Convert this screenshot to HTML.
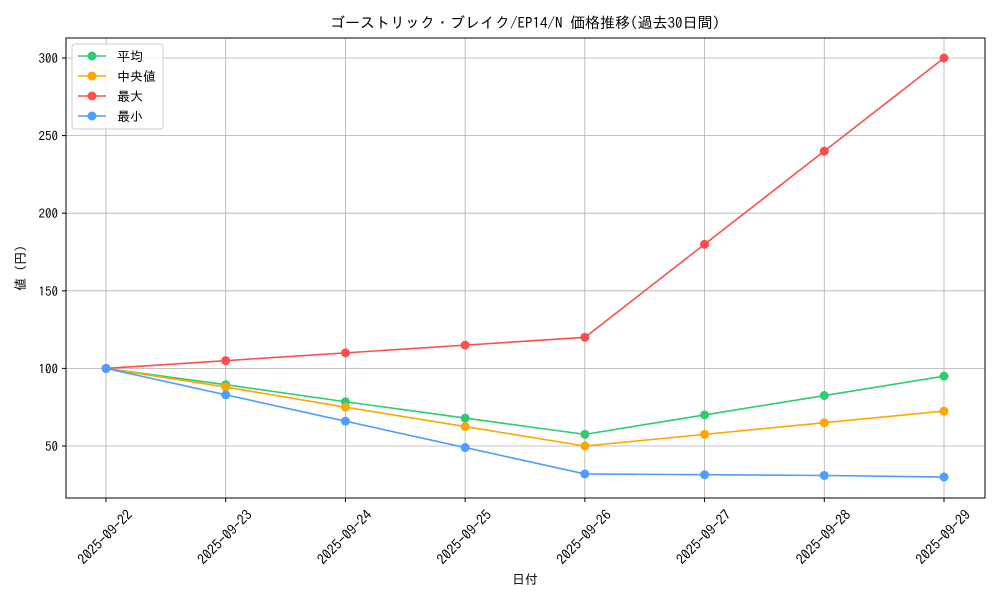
<!DOCTYPE html>
<html><head><meta charset="utf-8"><style>
body{margin:0;background:#fff;}
svg{display:block;font-family:"IPAGothic","Liberation Sans","Noto Sans CJK JP",sans-serif;}
</style></head><body>
<svg id="chart" width="1000" height="600">
<text x="525" y="28" text-anchor="middle" font-size="15">ゴーストリック・ブレイク/EP14/N 価格推移(過去30日間)</text>
<g id="grid"></g><g id="axes"></g><g id="series"></g><g id="legend"></g>
<text x="525" y="584" text-anchor="middle" font-size="13">日付</text>
<text transform="translate(25,268) rotate(-90)" text-anchor="middle" font-size="13">値 (円)</text>
</svg>
<script>
const categories=["2025-09-22","2025-09-23","2025-09-24","2025-09-25","2025-09-26","2025-09-27","2025-09-28","2025-09-29"];
const meanValues=[100,89.5,78.5,68,57.5,70,82.5,95];
const medianValues=[100,88,75,62.5,50,57.5,65,72.5];
const maxValues=[100,105,110,115,120,180,240,300];
const minValues=[100,83,66,49,32,31.5,31,30];
const yTicks=[50,100,150,200,250,300];
const seriesNames=["平均","中央値","最大","最小"];
const seriesColors=["#2ecc71","#ffa500","#ff4d4d","#4d9fff"];
const NS="http://www.w3.org/2000/svg";
const L=66,R=985,T=38,B=498;
const x=i=>106+i*(944-106)/(categories.length-1);
const y=v=>446-(v-50)*(388/250);
function mk(p,tag,a){const e=document.createElementNS(NS,tag);for(const k in a)e.setAttribute(k,a[k]);p.appendChild(e);return e;}
const grid=document.getElementById('grid'),axes=document.getElementById('axes'),ser=document.getElementById('series'),leg=document.getElementById('legend');
categories.forEach((c,i)=>{
 const g=mk(grid,'line',{x1:x(i),x2:x(i),y1:T,y2:B,stroke:'#b0b0b0','stroke-width':0.8});
 
 
 mk(axes,'line',{x1:x(i),x2:x(i),y1:B,y2:B+4,stroke:'#000'});
 const t=mk(axes,'text',{x:0,y:0,'font-size':14,'text-anchor':'middle','dominant-baseline':'central',transform:`translate(${x(i)-1},${537}) rotate(-45)`});
 t.textContent=c;
 
 
});
yTicks.forEach(v=>{
 const g=mk(grid,'line',{x1:L,x2:R,y1:y(v),y2:y(v),stroke:'#b0b0b0','stroke-width':0.8});
 
 
 mk(axes,'line',{x1:L-4,x2:L,y1:y(v),y2:y(v),stroke:'#000'});
 const t=mk(axes,'text',{x:L-8,y:y(v)+5,'font-size':13,'text-anchor':'end'});
 t.textContent=v;
 
 
});
const frame=mk(axes,'rect',{x:L,y:T,width:R-L,height:B-T,fill:'none',stroke:'#000','stroke-width':1});


[meanValues,medianValues,maxValues,minValues].forEach((vals,s)=>{
 const g=mk(ser,'g',{});
 
 
 mk(g,'polyline',{points:vals.map((v,i)=>x(i)+','+y(v)).join(' '),fill:'none',stroke:seriesColors[s],'stroke-width':1.6});
 vals.forEach((v,i)=>{
  const c=mk(g,'circle',{cx:x(i),cy:y(v),r:4.5,fill:seriesColors[s]});
  
  
 });
});
const box=mk(leg,'rect',{x:72,y:44,width:91,height:85,rx:3,fill:'#fff',stroke:'#ccc','fill-opacity':0.85});


seriesNames.forEach((n,s)=>{
 const yy=56+s*20;
 const g=mk(leg,'g',{});
 
 
 mk(g,'line',{x1:78,x2:106,y1:yy,y2:yy,stroke:seriesColors[s],'stroke-width':1.6});
 mk(g,'circle',{cx:92,cy:yy,r:4.5,fill:seriesColors[s]});
 const t=mk(g,'text',{x:117,y:yy+5,'font-size':13});
 t.textContent=n;
});
</script>
</body></html>
